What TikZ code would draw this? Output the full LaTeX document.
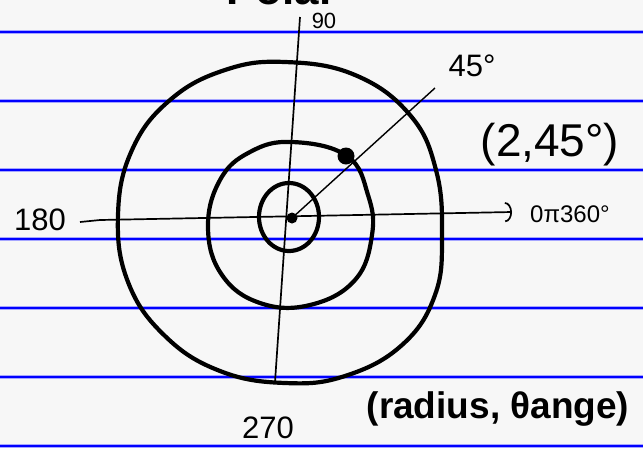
\documentclass[tikz,border=0pt]{standalone}
\usepackage{fontspec}
\setmainfont{Liberation Sans}
\usetikzlibrary{arrows.meta}
\begin{document}
\begin{tikzpicture}[x=1pt,y=-1pt,
  ruled/.style={blue,line width=2.6pt},
  ruledhalo/.style={blue!35!white,line width=4.2pt},
  ring/.style={black,line width=4.2pt,line join=round},
  axis/.style={black,line width=1.7pt},
  hand/.style={inner sep=0pt,text=black},
]
\useasboundingbox (0,0) rectangle (643,448);
\clip (0,0) rectangle (643,448);
\fill[white!97!black] (0,0) rectangle (643,448);
% ruled paper lines
\foreach \yy in {32,101,170,239,308,377,446}{
  \draw[ruledhalo] (0,\yy) -- (643,\yy);
  \draw[ruled] (0,\yy) -- (643,\yy);
}
% cut-off title
\node[hand,anchor=base west,font=\bfseries\fontsize{44}{44}\selectfont] (title) at (226,4) {Polar};
% coordinates
\coordinate (O) at (292,218);
\coordinate (vtop) at (300,17);
\coordinate (vbot) at (275,382);
\coordinate (hleft) at (80,222);
\coordinate (hmid) at (100,220);
\coordinate (hright) at (512,212);
\coordinate (rayend) at (435,88);
% outer ring
\draw[ring] plot[smooth cycle,tension=0.7] coordinates {
 (285,62) (355,75) (410,115) (436,170) (442,235) (435,295) (402,345)
 (345,376) (285,383) (220,371) (165,336) (128,282) (118,215) (132,150)
 (170,100) (225,70)};
% middle ring
\draw[ring] plot[smooth cycle,tension=0.7] coordinates {
 (292,142) (347,156) (368,195) (372,235) (355,280) (310,305) (260,303)
 (222,275) (208,228) (220,180) (250,152)};
% inner ring
\draw[ring] (289,217) ellipse [x radius=30, y radius=34];
% axes
\draw[axis] (vtop) -- (vbot);
\draw[axis] (hleft) -- (hmid);
\draw[axis,-{Arc Barb[length=7pt,width=20pt,line width=1.7pt]}] (hmid) -- (hright);
% ray
\draw[black,line width=1.4pt] (O) -- (rayend);
% points
\fill[black] (O) circle (5.5);
\node[circle,fill=black,inner sep=0pt,minimum size=17pt] (P) at (346,156) {};
% labels
\node[hand,font=\fontsize{22}{22}\selectfont] (l90) at (324,21) {90};
\node[hand,font=\fontsize{31}{31}\selectfont] (l180) at (40,220) {180};
\node[hand,font=\fontsize{31}{31}\selectfont] (l270) at (268,428) {270};
\node[hand,font=\fontsize{31}{31}\selectfont] (l45) at (472,66) {45°};
\node[hand,font=\fontsize{24}{24}\selectfont] (l0) at (570,214) {0π360°};
\node[hand,font=\fontsize{46}{46}\selectfont] (pt) at (550,145) {(2,45°)};
\node[hand,font=\bfseries\fontsize{37}{37}\selectfont] (form) at (498,409) {(radius, θange)};
\end{tikzpicture}
\end{document}
